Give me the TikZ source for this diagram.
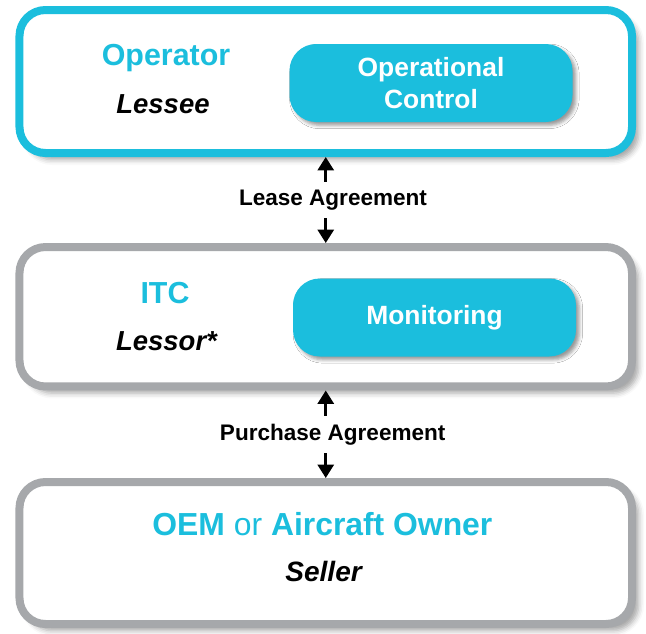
\documentclass[tikz,border=0pt]{standalone}
\usepackage{fontspec}
\setmainfont{Liberation Sans}
\usetikzlibrary{positioning,calc,arrows.meta,shadows.blur}
\definecolor{itccyan}{RGB}{27,190,221}
\definecolor{itcgray}{RGB}{166,168,171}

\tikzset{
    party/.style={draw, line width=6pt, fill=white, rounded corners=19.5pt,
        minimum width=459.4pt, inner sep=0pt,
        blur shadow={shadow xshift=5pt, shadow yshift=-5pt, shadow blur radius=4pt, shadow opacity=35}},
    task/.style={fill=itccyan, rounded corners=20pt, minimum width=212.25pt, minimum height=58.5pt,
        text=white, align=center, font=\fontsize{19.8}{24}\selectfont\bfseries,
        blur shadow={shadow xshift=2.5pt, shadow yshift=-2.5pt, shadow blur radius=2.5pt, shadow opacity=40}},
    title/.style={anchor=base, inner sep=0pt, text=itccyan, font=\fontsize{22.8}{27}\selectfont\bfseries},
    role/.style={anchor=base, inner sep=0pt, font=\fontsize{20.6}{25}\selectfont\bfseries\itshape},
    agreement/.style={inner sep=0pt, font=\fontsize{16.9}{20}\selectfont\bfseries},
    agree/.style={line width=2pt, -{Triangle[width=12pt,length=10pt]}}
}

\begin{document}
\begin{tikzpicture}[x=0.75pt, y=-0.75pt]
    \useasboundingbox (0,0) rectangle (646,633);
    % the three parties
    \node[party, draw=itccyan, minimum height=107.25pt] (operator) at (325.75,81.5) {};
    \node[party, draw=itcgray, minimum height=104.6pt] (itc) at (325.75,316.75) {};
    \node[party, draw=itcgray, minimum height=106.5pt] (seller) at (325.75,553) {};

    % operator box
    \node[title] (operatorname) at (166,65) {Operator};
    \node[role] (lessee) at (163,113) {Lessee};
    \node[task] (control) at (431,83) {Operational\\Control};

    % ITC box
    \node[title] (itcname) at (165,303) {ITC};
    \node[role] (lessor) at (166.5,350) {Lessor*};
    \node[task] (monitor) at (434.5,317.5) {Monitoring};

    % seller box
    \node[title, font=\fontsize{23.9}{28}\selectfont\bfseries] (sellername) at (322.4,535)
        {OEM {\mdseries or} Aircraft Owner};
    \node[role, font=\fontsize{21}{25}\selectfont\bfseries\itshape] (sellerrole) at (323.6,581.7) {Seller};

    % agreements
    \node[agreement, minimum height=27pt] (lease) at (333,200) {Lease Agreement};
    \node[agreement, minimum height=27.75pt] (purchase) at (332.7,434.5) {Purchase Agreement};
    \draw[agree] (lease.north -| operator.south) -- (operator.south);
    \draw[agree] (lease.south -| itc.north) -- (itc.north);
    \draw[agree] (purchase.north -| itc.south) -- (itc.south);
    \draw[agree] (purchase.south -| seller.north) -- (seller.north);
\end{tikzpicture}
\end{document}
